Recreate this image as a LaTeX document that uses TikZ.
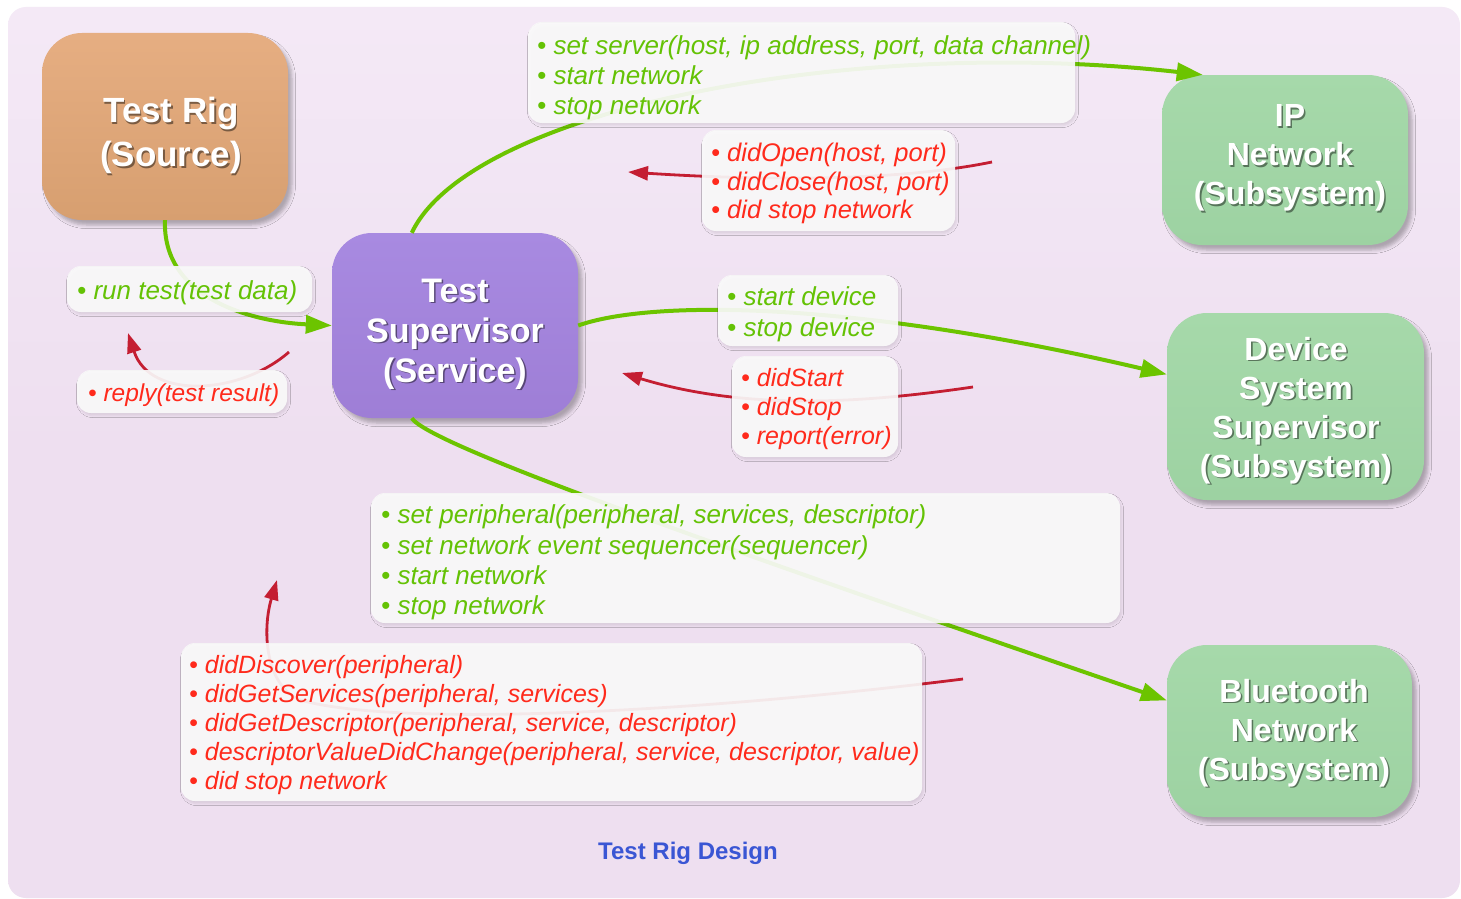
\documentclass[tikz,border=0pt]{standalone}
\usepackage{fontspec}
\setmainfont{Liberation Sans}
\usetikzlibrary{arrows.meta,shadows.blur}

\definecolor{canvas}{HTML}{EEDFF0}
\definecolor{canvastop}{HTML}{F4E9F6}
\definecolor{rigtop}{HTML}{E6AE82}
\definecolor{rigbot}{HTML}{D79F70}
\definecolor{suptop}{HTML}{A88AE1}
\definecolor{supbot}{HTML}{9E7ED6}
\definecolor{subtop}{HTML}{A6D9AA}
\definecolor{subbot}{HTML}{9DD2A2}
\definecolor{boxfill}{HTML}{FAFAFA}
\definecolor{callgreen}{HTML}{64C205}
\definecolor{backred}{HTML}{FF2A1C}
\definecolor{arrowgreen}{HTML}{6CC400}
\definecolor{arrowred}{HTML}{C41E32}
\definecolor{captionblue}{HTML}{3A56D4}

\tikzset{
  unit/.style={rounded corners=40pt, inner sep=0pt,
    blur shadow={shadow xshift=4pt, shadow yshift=-5pt, shadow blur radius=3.5pt, shadow opacity=28}},
  rigfill/.style={top color=rigtop, bottom color=rigbot},
  supfill/.style={top color=suptop, bottom color=supbot},
  subfill/.style={top color=subtop, bottom color=subbot},
  unittext/.style={align=center, inner sep=0pt, text=white},
  unitshade/.style={align=center, inner sep=0pt, text=black, text opacity=0.45},
  bigfont/.style={font=\fontsize{35}{44}\selectfont\bfseries},
  midfont/.style={font=\fontsize{34}{40}\selectfont\bfseries},
  subfont/.style={font=\fontsize{32}{39}\selectfont\bfseries},
  msgbox/.style={fill=boxfill, fill opacity=0.92, rounded corners=14pt,
    blur shadow={shadow xshift=1.5pt, shadow yshift=-2.5pt, shadow blur radius=2pt, shadow opacity=9}},
  msg/.style={align=left, inner sep=0pt, anchor=west},
  callmsg/.style={msg, text=callgreen},
  backmsg/.style={msg, text=backred},
  callarrow/.style={draw=arrowgreen, line width=4pt, -{Triangle[length=26pt,width=18pt]}},
  backarrow/.style={draw=arrowred, line width=2.8pt, -{Triangle[length=20pt,width=14pt]}},
}

% #1 name, #2 centre, #3 width, #4 height, #5 fill style, #6 text centre, #7 font style, #8 text
\newcommand\unitbox[8]{%
  \node[unit,#5,minimum width=#3pt,minimum height=#4pt] (#1) at (#2) {};
  \node[#7,unitshade] (#1-shade) at ([shift={(1.6,1.6)}]#6) {#8};
  \node[#7,unittext] (#1-text) at (#6) {#8};
}

\begin{document}
\begin{tikzpicture}[x=1pt,y=-1pt]
\useasboundingbox (0,0) rectangle (1461,899);
\fill[white] (0,0) rectangle (1461,899);
\shade[top color=canvastop, bottom color=canvas, middle color=canvas, rounded corners=18pt]
  (8,7) rectangle (1460,898);

% components
\unitbox{rig}{165,126.5}{246}{187}{rigfill}{171,135.5}{bigfont}{Test Rig\\(Source)}
\unitbox{sup}{455,325.5}{246}{185}{supfill}{455,334}{midfont}{Test\\Supervisor\\(Service)}
\unitbox{ip}{1285,160}{246}{170}{subfill}{1290,158}{subfont}{IP\\Network\\(Subsystem)}
\unitbox{dev}{1295.5,406.5}{257}{187}{subfill}{1296,410.5}{subfont}{Device\\System\\Supervisor\\(Subsystem)}
\unitbox{bt}{1289.5,731}{245}{172}{subfill}{1294,733}{subfont}{Bluetooth\\Network\\(Subsystem)}

% calls
\draw[callarrow] (rig.south) .. controls (162,300) and (255,322) .. (sup.west);
\draw[callarrow] (sup.115) .. controls (470,110) and (850,35) .. (ip.134);
\draw[callarrow] (sup.east) .. controls (650,300) and (850,300) .. (dev.166);
\draw[callarrow] (sup.245) .. controls (430,445) and (700,540) .. (bt.166);

% callbacks
\coordinate (replyfrom) at (289,352);
\coordinate (replyto) at (128,333);
\draw[backarrow] (replyfrom) .. controls (240,395) and (150,400) .. (replyto);
\coordinate (ipfrom) at (992,162);
\coordinate (ipto) at (628,172);
\draw[backarrow] (ipfrom) .. controls (880,185) and (720,178) .. (ipto);
\coordinate (devfrom) at (973,387);
\coordinate (devto) at (622,373);
\draw[backarrow] (devfrom) .. controls (870,402) and (750,412) .. (devto);
\coordinate (btfrom) at (963,679);
\coordinate (btto) at (277,580);
\draw[backarrow] (btfrom) .. controls (700,712) and (400,728) .. (300,700)
  .. controls (265,685) and (262,630) .. (btto);

% message lists
\path[msgbox] (528,22) rectangle (1075,123);
\node[callmsg, font=\fontsize{26}{30}\selectfont\itshape] (ipcalls) at (537,78)
  {• set server(host, ip address, port, data channel)\\• start network\\• stop network};

\path[msgbox] (702,130) rectangle (955,231);
\node[backmsg, font=\fontsize{25.5}{28.5}\selectfont\itshape] (ipbacks) at (711,183.5)
  {• didOpen(host, port)\\• didClose(host, port)\\• did stop network};

\path[msgbox] (67,266) rectangle (312,312);
\node[callmsg, font=\fontsize{26}{30}\selectfont\itshape] (rigcall) at (77,293)
  {• run test(test data)};

\path[msgbox] (77,370) rectangle (287,413);
\node[backmsg, font=\fontsize{24.5}{30}\selectfont\itshape] (rigback) at (88,395)
  {• reply(test result)};

\path[msgbox] (718,275) rectangle (898,346);
\node[callmsg, font=\fontsize{26}{31}\selectfont\itshape] (devcalls) at (727,314.5)
  {• start device\\• stop device};

\path[msgbox] (732,356) rectangle (898,457);
\node[backmsg, font=\fontsize{25}{29}\selectfont\itshape] (devbacks) at (741,409)
  {• didStart\\• didStop\\• report(error)};

\path[msgbox] (371,493) rectangle (1120,623);
\node[callmsg, font=\fontsize{26}{30.3}\selectfont\itshape] (btcalls) at (381,562.5)
  {• set peripheral(peripheral, services, descriptor)\\• set network event sequencer(sequencer)\\• start network\\• stop network};

\path[msgbox] (181,643) rectangle (922,801);
\node[backmsg, font=\fontsize{25}{29}\selectfont\itshape] (btbacks) at (189,725)
  {• didDiscover(peripheral)\\• didGetServices(peripheral, services)\\• didGetDescriptor(peripheral, service, descriptor)\\• descriptorValueDidChange(peripheral, service, descriptor, value)\\• did stop network};

\node[font=\fontsize{24}{28}\selectfont\bfseries, text=captionblue] (caption) at (688,853)
  {Test Rig Design};
\end{tikzpicture}
\end{document}
